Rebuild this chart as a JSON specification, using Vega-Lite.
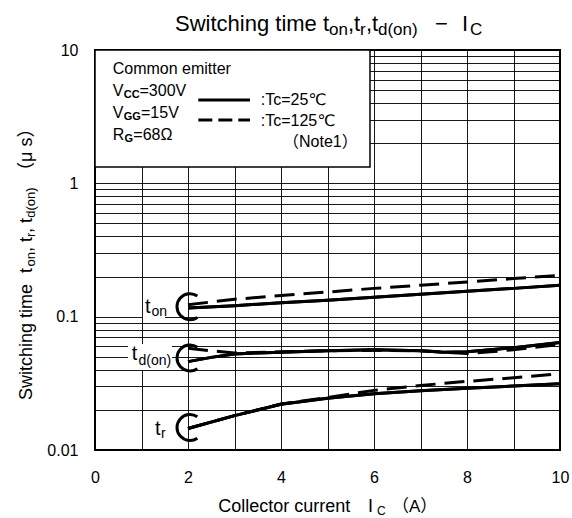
{
 "$schema": "https://vega.github.io/schema/vega-lite/v6.json",
 "width": 465, "height": 400,
 "autosize": {"type": "none"},
 "padding": {"left": 95, "top": 50, "right": 12, "bottom": 68},
 "background": "white",
 "config": {
  "view": {"stroke": "#000", "strokeWidth": 2},
  "axis": {"grid": true, "gridColor": "#000", "gridWidth": 1, "gridOpacity": 0.9, "domain": false, "ticks": false, "tickSize": 0, "labelFont": "Liberation Sans", "labelFontSize": 16, "labelColor": "#000", "labelFlush": false, "labelOverlap": false}
 },
 "datasets": {
  "curves": [
   {"curve": "ton", "temp": "25", "I": 2, "t": 0.116},
   {"curve": "ton", "temp": "25", "I": 3, "t": 0.121},
   {"curve": "ton", "temp": "25", "I": 4, "t": 0.127},
   {"curve": "ton", "temp": "25", "I": 5, "t": 0.133},
   {"curve": "ton", "temp": "25", "I": 6, "t": 0.140},
   {"curve": "ton", "temp": "25", "I": 7, "t": 0.147},
   {"curve": "ton", "temp": "25", "I": 8, "t": 0.155},
   {"curve": "ton", "temp": "25", "I": 9, "t": 0.163},
   {"curve": "ton", "temp": "25", "I": 10, "t": 0.172},
   {"curve": "ton", "temp": "125", "I": 2, "t": 0.123},
   {"curve": "ton", "temp": "125", "I": 3, "t": 0.135},
   {"curve": "ton", "temp": "125", "I": 4, "t": 0.144},
   {"curve": "ton", "temp": "125", "I": 5, "t": 0.153},
   {"curve": "ton", "temp": "125", "I": 6, "t": 0.163},
   {"curve": "ton", "temp": "125", "I": 7, "t": 0.172},
   {"curve": "ton", "temp": "125", "I": 8, "t": 0.182},
   {"curve": "ton", "temp": "125", "I": 9, "t": 0.193},
   {"curve": "ton", "temp": "125", "I": 10, "t": 0.204},
   {"curve": "tdon", "temp": "25", "I": 2, "t": 0.046},
   {"curve": "tdon", "temp": "25", "I": 2.5, "t": 0.0495},
   {"curve": "tdon", "temp": "25", "I": 3, "t": 0.0525},
   {"curve": "tdon", "temp": "25", "I": 3.5, "t": 0.0535},
   {"curve": "tdon", "temp": "25", "I": 4, "t": 0.054},
   {"curve": "tdon", "temp": "25", "I": 5, "t": 0.0555},
   {"curve": "tdon", "temp": "25", "I": 6, "t": 0.0565},
   {"curve": "tdon", "temp": "25", "I": 7, "t": 0.0555},
   {"curve": "tdon", "temp": "25", "I": 7.5, "t": 0.054},
   {"curve": "tdon", "temp": "25", "I": 8, "t": 0.0545},
   {"curve": "tdon", "temp": "25", "I": 9, "t": 0.0585},
   {"curve": "tdon", "temp": "25", "I": 10, "t": 0.064},
   {"curve": "tdon", "temp": "125", "I": 2, "t": 0.058},
   {"curve": "tdon", "temp": "125", "I": 2.5, "t": 0.0555},
   {"curve": "tdon", "temp": "125", "I": 3, "t": 0.0535},
   {"curve": "tdon", "temp": "125", "I": 4, "t": 0.0545},
   {"curve": "tdon", "temp": "125", "I": 5, "t": 0.0555},
   {"curve": "tdon", "temp": "125", "I": 6, "t": 0.056},
   {"curve": "tdon", "temp": "125", "I": 7, "t": 0.0555},
   {"curve": "tdon", "temp": "125", "I": 8, "t": 0.053},
   {"curve": "tdon", "temp": "125", "I": 8.5, "t": 0.0545},
   {"curve": "tdon", "temp": "125", "I": 9, "t": 0.0565},
   {"curve": "tdon", "temp": "125", "I": 10, "t": 0.062},
   {"curve": "tr", "temp": "25", "I": 2, "t": 0.0145},
   {"curve": "tr", "temp": "25", "I": 3, "t": 0.0181},
   {"curve": "tr", "temp": "25", "I": 4, "t": 0.0220},
   {"curve": "tr", "temp": "25", "I": 5, "t": 0.0244},
   {"curve": "tr", "temp": "25", "I": 6, "t": 0.0264},
   {"curve": "tr", "temp": "25", "I": 7, "t": 0.0278},
   {"curve": "tr", "temp": "25", "I": 8, "t": 0.0290},
   {"curve": "tr", "temp": "25", "I": 9, "t": 0.0302},
   {"curve": "tr", "temp": "25", "I": 10, "t": 0.0314},
   {"curve": "tr", "temp": "125", "I": 2, "t": 0.0145},
   {"curve": "tr", "temp": "125", "I": 3, "t": 0.0181},
   {"curve": "tr", "temp": "125", "I": 4, "t": 0.0221},
   {"curve": "tr", "temp": "125", "I": 5, "t": 0.0248},
   {"curve": "tr", "temp": "125", "I": 6, "t": 0.0280},
   {"curve": "tr", "temp": "125", "I": 7, "t": 0.0305},
   {"curve": "tr", "temp": "125", "I": 8, "t": 0.0327},
   {"curve": "tr", "temp": "125", "I": 9, "t": 0.0348},
   {"curve": "tr", "temp": "125", "I": 10, "t": 0.0374}
  ]
 },
 "layer": [
  {"data": {"name": "curves"}, "transform": [{"filter": "datum.temp == '25'"}],
   "mark": {"type": "line", "color": "#000", "strokeWidth": 3},
   "encoding": {
    "x": {"field": "I", "type": "quantitative", "scale": {"domain": [0, 10], "nice": false},
          "axis": {"title": null, "values": [0,1,2,3,4,5,6,7,8,9,10], "labelExpr": "datum.value % 2 == 0 ? datum.label : ''", "labelPadding": 19}},
    "y": {"field": "t", "type": "quantitative", "scale": {"type": "log", "domain": [0.01, 10], "nice": false},
          "axis": {"title": null, "values": [0.01,0.02,0.03,0.04,0.05,0.06,0.07,0.08,0.09,0.1,0.2,0.3,0.4,0.5,0.6,0.7,0.8,0.9,1,2,3,4,5,6,7,8,9,10],
                   "labelExpr": "datum.value == 0.01 ? '0.01' : datum.value == 0.1 ? '0.1' : datum.value == 1 ? '1' : datum.value == 10 ? '10' : ''", "labelPadding": 17}},
    "detail": {"field": "curve"}
   }},
  {"data": {"values": [{}]}, "mark": {"type": "rect", "fill": "white"},
   "encoding": {"x": {"datum": 1.032}, "x2": {"datum": 1.505}, "y": {"datum": 0.0977}, "y2": {"datum": 0.1454}}},
  {"data": {"values": [{}]}, "mark": {"type": "rect", "fill": "white"},
   "encoding": {"x": {"datum": 0.7097}, "x2": {"datum": 1.6559}, "y": {"datum": 0.0398}, "y2": {"datum": 0.0624}}},
  {"data": {"values": [{}]}, "mark": {"type": "rect", "fill": "white", "stroke": "#000", "strokeWidth": 1.5},
   "encoding": {"x": {"datum": 0}, "x2": {"datum": 5.914}, "y": {"datum": 1.326}, "y2": {"datum": 10}}},
  {"data": {"name": "curves"}, "transform": [{"filter": "datum.temp == '25'"}],
   "mark": {"type": "line", "color": "#000", "strokeWidth": 3},
   "encoding": {"x": {"field": "I", "type": "quantitative"}, "y": {"field": "t", "type": "quantitative"}, "detail": {"field": "curve"}}},
  {"data": {"name": "curves"}, "transform": [{"filter": "datum.temp == '125'"}],
   "mark": {"type": "line", "color": "#000", "strokeWidth": 3, "strokeDash": [20, 9]},
   "encoding": {"x": {"field": "I", "type": "quantitative"}, "y": {"field": "t", "type": "quantitative"}, "detail": {"field": "curve"}}},
  {"data": {"values": [{}]}, "mark": {"type": "arc", "radius": 14.5, "radius2": 11.5, "theta": 2.54, "theta2": 6.883, "fill": "#000"},
   "encoding": {"x": {"datum": 2.043}, "y": {"datum": 0.1188}}},
  {"data": {"values": [{}]}, "mark": {"type": "arc", "radius": 14.5, "radius2": 11.5, "theta": 2.54, "theta2": 6.883, "fill": "#000"},
   "encoding": {"x": {"datum": 2.043}, "y": {"datum": 0.049}}},
  {"data": {"values": [{}]}, "mark": {"type": "arc", "radius": 14.5, "radius2": 11.5, "theta": 2.54, "theta2": 6.883, "fill": "#000"},
   "encoding": {"x": {"datum": 2.043}, "y": {"datum": 0.01475}}},
  {"data": {"values": [{}]}, "mark": {"type": "rule", "color": "#000", "strokeWidth": 3},
   "encoding": {"x": {"datum": 2.2215}, "x2": {"datum": 3.3333}, "y": {"datum": 4.217}}},
  {"data": {"values": [{}]}, "mark": {"type": "rule", "color": "#000", "strokeWidth": 3, "strokeDash": [14, 6]},
   "encoding": {"x": {"datum": 2.2215}, "x2": {"datum": 3.3333}, "y": {"datum": 2.985}}},

  {"data": {"values": [{}]}, "mark": {"type": "text", "text": "Switching time t", "align": "left", "baseline": "alphabetic", "font": "Liberation Sans", "fontSize": 22, "color": "#000"}, "encoding": {"x": {"datum": 1.7204}, "y": {"datum": 13.77}}},
  {"data": {"values": [{}]}, "mark": {"type": "text", "text": "on", "align": "left", "baseline": "alphabetic", "font": "Liberation Sans", "fontSize": 17, "color": "#000"}, "encoding": {"x": {"datum": 5.0323}, "y": {"datum": 12.85}}},
  {"data": {"values": [{}]}, "mark": {"type": "text", "text": ",t", "align": "left", "baseline": "alphabetic", "font": "Liberation Sans", "fontSize": 22, "color": "#000"}, "encoding": {"x": {"datum": 5.4409}, "y": {"datum": 13.77}}},
  {"data": {"values": [{}]}, "mark": {"type": "text", "text": "r", "align": "left", "baseline": "alphabetic", "font": "Liberation Sans", "fontSize": 17, "color": "#000"}, "encoding": {"x": {"datum": 5.6989}, "y": {"datum": 12.85}}},
  {"data": {"values": [{}]}, "mark": {"type": "text", "text": ",t", "align": "left", "baseline": "alphabetic", "font": "Liberation Sans", "fontSize": 22, "color": "#000"}, "encoding": {"x": {"datum": 5.828}, "y": {"datum": 13.77}}},
  {"data": {"values": [{}]}, "mark": {"type": "text", "text": "d(on)", "align": "left", "baseline": "alphabetic", "font": "Liberation Sans", "fontSize": 17, "color": "#000"}, "encoding": {"x": {"datum": 6.086}, "y": {"datum": 12.85}}},
  {"data": {"values": [{}]}, "mark": {"type": "text", "text": "−", "align": "left", "baseline": "alphabetic", "font": "Liberation Sans", "fontSize": 22, "color": "#000"}, "encoding": {"x": {"datum": 7.3118}, "y": {"datum": 13.77}}},
  {"data": {"values": [{}]}, "mark": {"type": "text", "text": "I", "align": "left", "baseline": "alphabetic", "font": "Liberation Sans", "fontSize": 22, "color": "#000"}, "encoding": {"x": {"datum": 7.8925}, "y": {"datum": 13.77}}},
  {"data": {"values": [{}]}, "mark": {"type": "text", "text": "C", "align": "left", "baseline": "alphabetic", "font": "Liberation Sans", "fontSize": 17, "color": "#000"}, "encoding": {"x": {"datum": 8.0645}, "y": {"datum": 12.85}}},

  {"data": {"values": [{}]}, "mark": {"type": "text", "text": "Collector current", "align": "left", "baseline": "alphabetic", "font": "Liberation Sans", "fontSize": 18, "color": "#000"}, "encoding": {"x": {"datum": 2.652}, "y": {"datum": 0.00342}}},
  {"data": {"values": [{}]}, "mark": {"type": "text", "text": "I", "align": "left", "baseline": "alphabetic", "font": "Liberation Sans", "fontSize": 18, "color": "#000"}, "encoding": {"x": {"datum": 5.871}, "y": {"datum": 0.00342}}},
  {"data": {"values": [{}]}, "mark": {"type": "text", "text": "C", "align": "left", "baseline": "alphabetic", "font": "Liberation Sans", "fontSize": 12, "color": "#000"}, "encoding": {"x": {"datum": 6.0645}, "y": {"datum": 0.00325}}},
  {"data": {"values": [{}]}, "mark": {"type": "text", "text": "（A）", "align": "left", "baseline": "alphabetic", "font": "Liberation Sans, Noto Sans CJK JP", "fontSize": 17, "color": "#000"}, "encoding": {"x": {"datum": 6.387}, "y": {"datum": 0.00342}}},

  {"data": {"values": [{}]}, "mark": {"type": "text", "text": "Switching time", "angle": 270, "align": "left", "baseline": "alphabetic", "font": "Liberation Sans", "fontSize": 18, "color": "#000"}, "encoding": {"x": {"datum": -1.3484}, "y": {"datum": 0.02371}}},
  {"data": {"values": [{}]}, "mark": {"type": "text", "text": "t", "angle": 270, "align": "left", "baseline": "alphabetic", "font": "Liberation Sans", "fontSize": 18, "color": "#000"}, "encoding": {"x": {"datum": -1.3484}, "y": {"datum": 0.2125}}},
  {"data": {"values": [{}]}, "mark": {"type": "text", "text": "on", "angle": 270, "align": "left", "baseline": "alphabetic", "font": "Liberation Sans", "fontSize": 13, "color": "#000"}, "encoding": {"x": {"datum": -1.2796}, "y": {"datum": 0.2375}}},
  {"data": {"values": [{}]}, "mark": {"type": "text", "text": ", t", "angle": 270, "align": "left", "baseline": "alphabetic", "font": "Liberation Sans", "fontSize": 18, "color": "#000"}, "encoding": {"x": {"datum": -1.3484}, "y": {"datum": 0.305}}},
  {"data": {"values": [{}]}, "mark": {"type": "text", "text": "r", "angle": 270, "align": "left", "baseline": "alphabetic", "font": "Liberation Sans", "fontSize": 13, "color": "#000"}, "encoding": {"x": {"datum": -1.2796}, "y": {"datum": 0.395}}},
  {"data": {"values": [{}]}, "mark": {"type": "text", "text": ", t", "angle": 270, "align": "left", "baseline": "alphabetic", "font": "Liberation Sans", "fontSize": 18, "color": "#000"}, "encoding": {"x": {"datum": -1.3484}, "y": {"datum": 0.425}}},
  {"data": {"values": [{}]}, "mark": {"type": "text", "text": "d(on)", "angle": 270, "align": "left", "baseline": "alphabetic", "font": "Liberation Sans", "fontSize": 13, "color": "#000"}, "encoding": {"x": {"datum": -1.2796}, "y": {"datum": 0.551}}},
  {"data": {"values": [{}]}, "mark": {"type": "text", "text": "（μ s）", "angle": 270, "align": "left", "baseline": "alphabetic", "font": "Liberation Sans, Noto Sans CJK JP", "fontSize": 18, "color": "#000"}, "encoding": {"x": {"datum": -1.3484}, "y": {"datum": 1.06}}},

  {"data": {"values": [{}]}, "mark": {"type": "text", "text": "Common emitter", "align": "left", "baseline": "alphabetic", "font": "Liberation Sans", "fontSize": 16, "color": "#000"}, "encoding": {"x": {"datum": 0.3806}, "y": {"datum": 6.607}}},
  {"data": {"values": [{}]}, "mark": {"type": "text", "text": "V", "align": "left", "baseline": "alphabetic", "font": "Liberation Sans", "fontSize": 16, "color": "#000"}, "encoding": {"x": {"datum": 0.3806}, "y": {"datum": 4.519}}},
  {"data": {"values": [{}]}, "mark": {"type": "text", "text": "CC", "align": "left", "baseline": "alphabetic", "font": "Liberation Sans", "fontSize": 11, "fontWeight": "bold", "color": "#000"}, "encoding": {"x": {"datum": 0.6194}, "y": {"datum": 4.365}}},
  {"data": {"values": [{}]}, "mark": {"type": "text", "text": "=300V", "align": "left", "baseline": "alphabetic", "font": "Liberation Sans", "fontSize": 16, "color": "#000"}, "encoding": {"x": {"datum": 0.957}, "y": {"datum": 4.519}}},
  {"data": {"values": [{}]}, "mark": {"type": "text", "text": "V", "align": "left", "baseline": "alphabetic", "font": "Liberation Sans", "fontSize": 16, "color": "#000"}, "encoding": {"x": {"datum": 0.3806}, "y": {"datum": 3.093}}},
  {"data": {"values": [{}]}, "mark": {"type": "text", "text": "GG", "align": "left", "baseline": "alphabetic", "font": "Liberation Sans", "fontSize": 11, "fontWeight": "bold", "color": "#000"}, "encoding": {"x": {"datum": 0.6194}, "y": {"datum": 2.985}}},
  {"data": {"values": [{}]}, "mark": {"type": "text", "text": "=15V", "align": "left", "baseline": "alphabetic", "font": "Liberation Sans", "fontSize": 16, "color": "#000"}, "encoding": {"x": {"datum": 0.989}, "y": {"datum": 3.093}}},
  {"data": {"values": [{}]}, "mark": {"type": "text", "text": "R", "align": "left", "baseline": "alphabetic", "font": "Liberation Sans", "fontSize": 16, "color": "#000"}, "encoding": {"x": {"datum": 0.3806}, "y": {"datum": 2.1135}}},
  {"data": {"values": [{}]}, "mark": {"type": "text", "text": "G", "align": "left", "baseline": "alphabetic", "font": "Liberation Sans", "fontSize": 11, "fontWeight": "bold", "color": "#000"}, "encoding": {"x": {"datum": 0.6344}, "y": {"datum": 2.0417}}},
  {"data": {"values": [{}]}, "mark": {"type": "text", "text": "=68Ω", "align": "left", "baseline": "alphabetic", "font": "Liberation Sans", "fontSize": 16, "color": "#000"}, "encoding": {"x": {"datum": 0.8237}, "y": {"datum": 2.1135}}},
  {"data": {"values": [{}]}, "mark": {"type": "text", "text": ":Tc=25℃", "align": "left", "baseline": "alphabetic", "font": "Liberation Sans, DejaVu Sans", "fontSize": 16, "color": "#000"}, "encoding": {"x": {"datum": 3.5634}, "y": {"datum": 3.868}}},
  {"data": {"values": [{}]}, "mark": {"type": "text", "text": ":Tc=125℃", "align": "left", "baseline": "alphabetic", "font": "Liberation Sans, DejaVu Sans", "fontSize": 16, "color": "#000"}, "encoding": {"x": {"datum": 3.5634}, "y": {"datum": 2.692}}},
  {"data": {"values": [{}]}, "mark": {"type": "text", "text": "（Note1）", "align": "left", "baseline": "alphabetic", "font": "Liberation Sans, Noto Sans CJK JP", "fontSize": 16, "color": "#000"}, "encoding": {"x": {"datum": 4.043}, "y": {"datum": 1.8732}}},

  {"data": {"values": [{}]}, "mark": {"type": "text", "text": "t", "align": "left", "baseline": "alphabetic", "font": "Liberation Sans", "fontSize": 20, "color": "#000"}, "encoding": {"x": {"datum": 1.0753}, "y": {"datum": 0.1065}}},
  {"data": {"values": [{}]}, "mark": {"type": "text", "text": "on", "align": "left", "baseline": "alphabetic", "font": "Liberation Sans", "fontSize": 14, "color": "#000"}, "encoding": {"x": {"datum": 1.2151}, "y": {"datum": 0.1012}}},
  {"data": {"values": [{}]}, "mark": {"type": "text", "text": "t", "align": "left", "baseline": "alphabetic", "font": "Liberation Sans", "fontSize": 20, "color": "#000"}, "encoding": {"x": {"datum": 0.7892}, "y": {"datum": 0.0473}}},
  {"data": {"values": [{}]}, "mark": {"type": "text", "text": "d(on)", "align": "left", "baseline": "alphabetic", "font": "Liberation Sans", "fontSize": 14, "color": "#000"}, "encoding": {"x": {"datum": 0.9355}, "y": {"datum": 0.0434}}},
  {"data": {"values": [{}]}, "mark": {"type": "text", "text": "t", "align": "left", "baseline": "alphabetic", "font": "Liberation Sans", "fontSize": 20, "color": "#000"}, "encoding": {"x": {"datum": 1.2903}, "y": {"datum": 0.01296}}},
  {"data": {"values": [{}]}, "mark": {"type": "text", "text": "r", "align": "left", "baseline": "alphabetic", "font": "Liberation Sans", "fontSize": 14, "color": "#000"}, "encoding": {"x": {"datum": 1.4194}, "y": {"datum": 0.0123}}}
 ]
}
